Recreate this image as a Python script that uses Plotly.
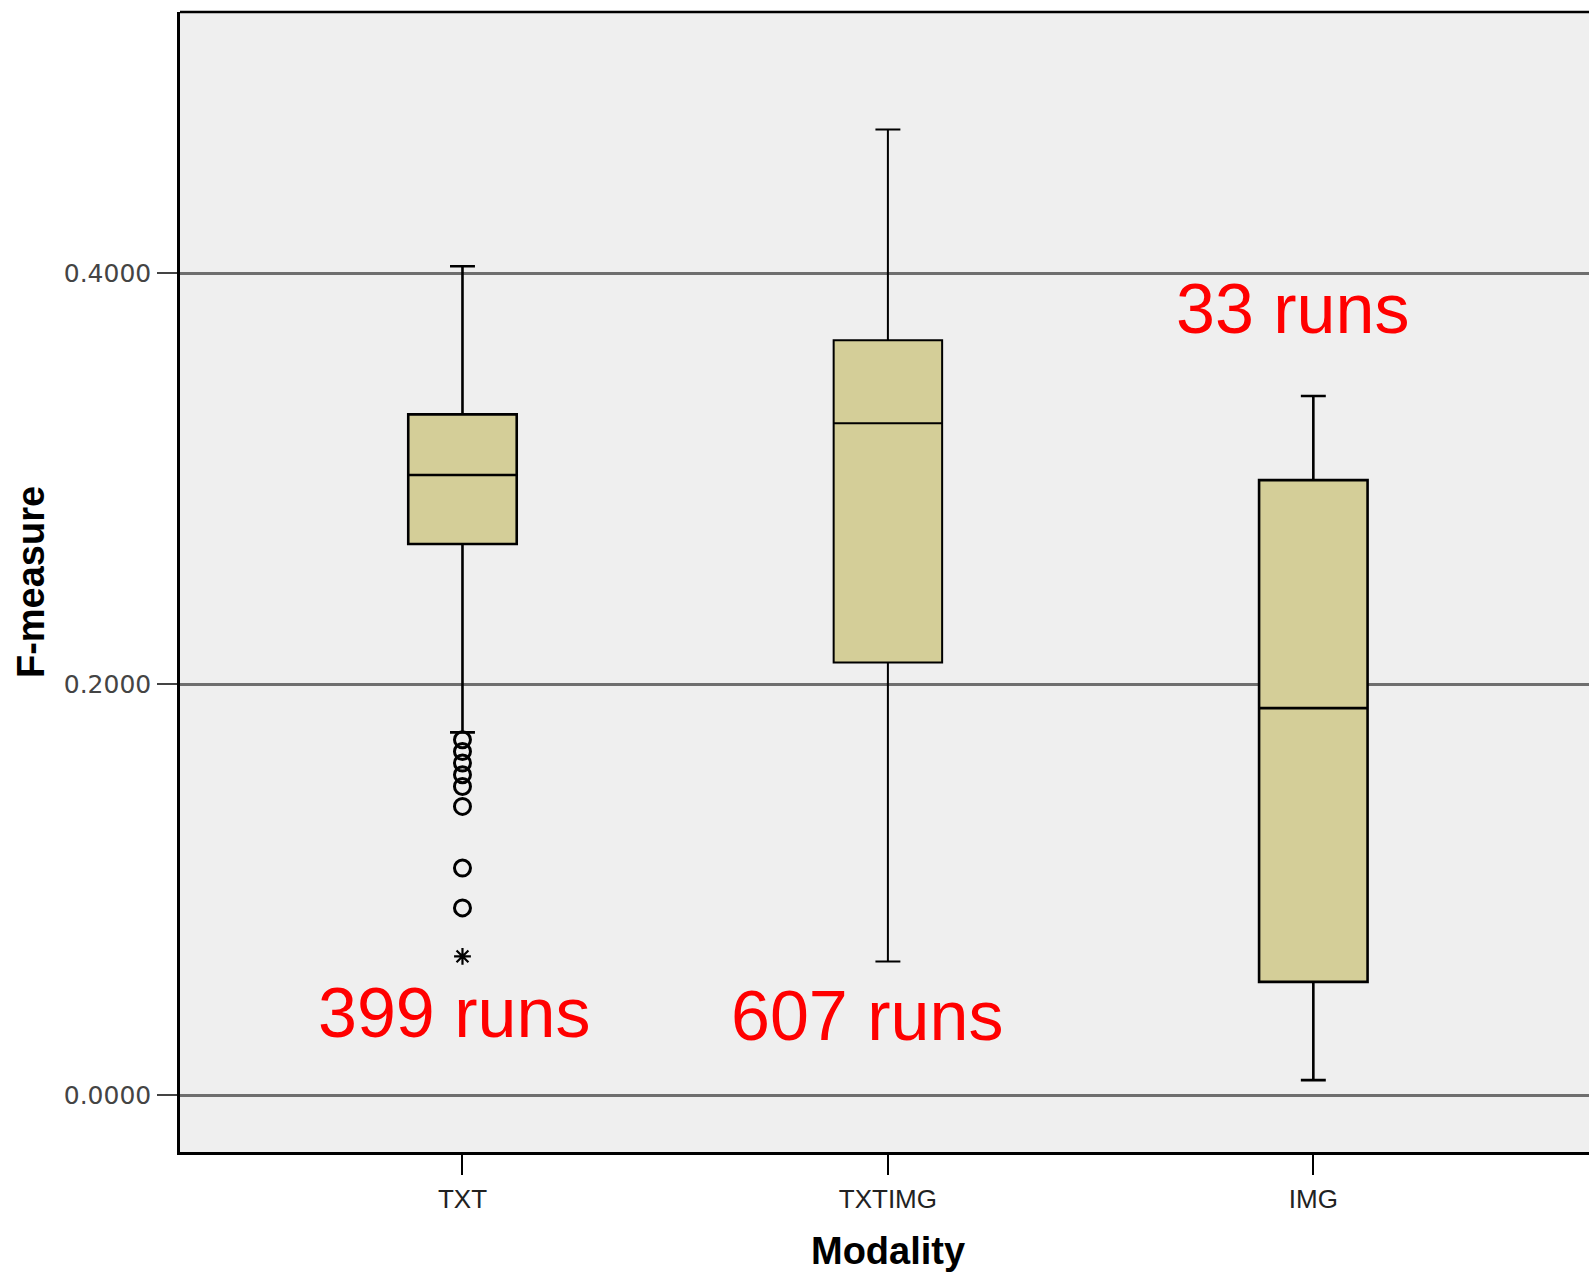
import plotly.graph_objects as go

# ---- data ----
categories = ["TXT", "TXTIMG", "IMG"]
q1 = [0.2683, 0.2106, 0.0552]
median = [0.3019, 0.3270, 0.1884]
q3 = [0.3314, 0.3674, 0.2994]
lower_whisker = [0.1766, 0.0651, 0.0074]
upper_whisker = [0.4035, 0.4700, 0.3403]
txt_outliers = [0.1730, 0.1673, 0.1617, 0.1560, 0.1503, 0.1406, 0.1106, 0.0912]
txt_extremes = [0.0676]
run_labels = ["399 runs", "607 runs", "33 runs"]
run_label_x = [-0.02, 0.95, 1.95]
run_label_y = [0.040, 0.0385, 0.3827]
y_ticks = [0.0, 0.2, 0.4]
y_ticktext = ["0.0000", "0.2000", "0.4000"]

box_fill = "#D4CE98"
line_widths = [2.6, 2.0, 2.6]

fig = go.Figure()
for i, cat in enumerate(categories):
    fig.add_trace(go.Box(
        x=[i], q1=[q1[i]], median=[median[i]], q3=[q3[i]],
        lowerfence=[lower_whisker[i]], upperfence=[upper_whisker[i]],
        name=cat, boxpoints=False, width=0.255, whiskerwidth=0.23,
        fillcolor=box_fill, line=dict(color="black", width=line_widths[i]),
        showlegend=False, hoverinfo="skip",
    ))

fig.add_trace(go.Scatter(
    x=[0] * len(txt_outliers), y=txt_outliers, mode="markers",
    marker=dict(symbol="circle-open", size=16, color="black",
                line=dict(width=3, color="black")),
    showlegend=False, hoverinfo="skip",
))
fig.add_trace(go.Scatter(
    x=[0] * len(txt_extremes), y=txt_extremes, mode="markers",
    marker=dict(symbol="asterisk-open", size=14, color="black",
                line=dict(width=2.2, color="black")),
    showlegend=False, hoverinfo="skip",
))

for t, xx, yy in zip(run_labels, run_label_x, run_label_y):
    fig.add_annotation(x=xx, y=yy, xref="x", yref="y", text=t, showarrow=False,
                       font=dict(family="Liberation Sans, Arial", size=70, color="#FF0000"),
                       xanchor="center", yanchor="middle")

fig.add_annotation(x=-0.1057, y=0.5, xref="paper", yref="paper", text="<b>F-measure</b>",
                   textangle=-90, showarrow=False,
                   font=dict(family="Liberation Sans, Arial", size=38, color="black"),
                   xanchor="center", yanchor="middle")
fig.add_annotation(x=1.0, y=-0.087, xref="x", yref="paper", text="<b>Modality</b>",
                   showarrow=False,
                   font=dict(family="Liberation Sans, Arial", size=38, color="black"),
                   xanchor="center", yanchor="middle")

# top border
fig.add_shape(type="line", xref="paper", yref="paper", x0=0, x1=1, y0=1, y1=1,
              line=dict(color="black", width=2.5))

fig.update_layout(
    width=1589, height=1273,
    margin=dict(l=180, r=0, t=12, b=121),
    paper_bgcolor="white", plot_bgcolor="#EFEFEF",
    xaxis=dict(range=[-0.664, 2.648], tickmode="array", tickvals=[0, 1, 2],
               ticktext=categories, showgrid=False, zeroline=False,
               showline=True, linecolor="black", linewidth=2.5,
               ticks="outside", ticklen=20, tickwidth=2, tickcolor="black",
               ticklabelstandoff=2,
               tickfont=dict(family="Liberation Sans, Arial", size=26, color="#222222")),
    yaxis=dict(range=[-0.0276, 0.5272], tickmode="array", tickvals=y_ticks,
               ticktext=y_ticktext, showgrid=True, gridcolor="#6E6E6E", gridwidth=2.5,
               zeroline=False, showline=True, linecolor="black", linewidth=2.5,
               ticks="outside", ticklen=20, tickwidth=2, tickcolor="#444444",
               ticklabelstandoff=1,
               tickfont=dict(family="DejaVu Sans", size=25, color="#444444")),
)

fig.write_html("out.html", config={"displayModeBar": False},
               post_script="document.body.style.margin='0';")
